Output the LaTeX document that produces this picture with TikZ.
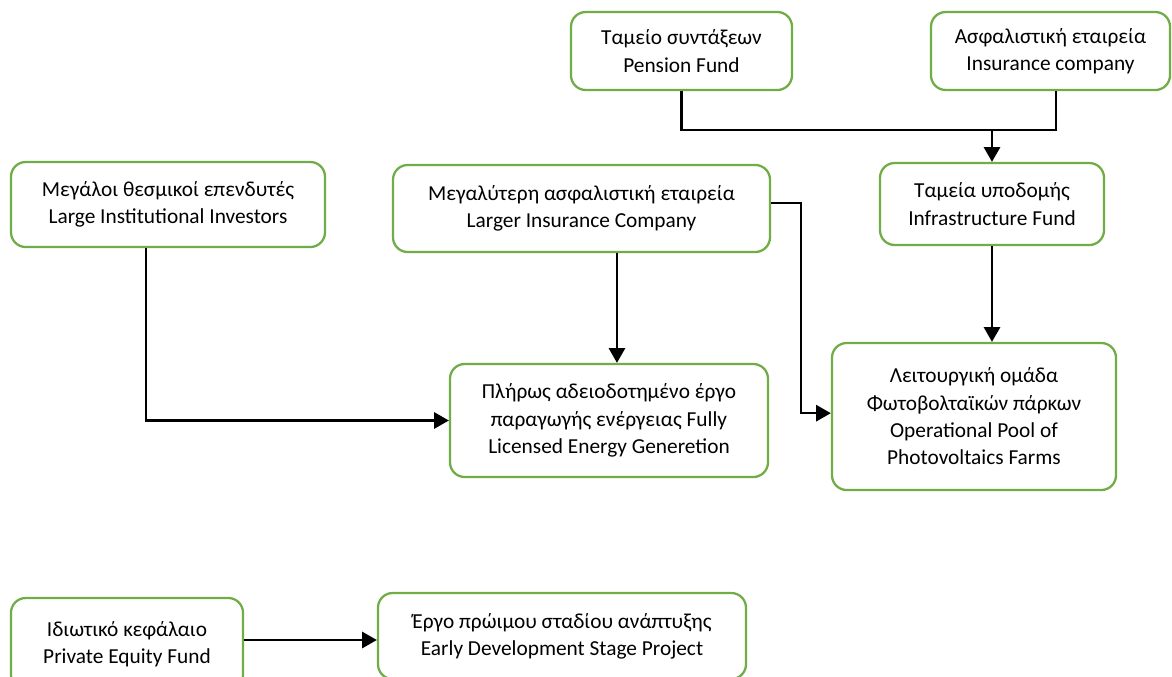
\documentclass[tikz,border=0pt]{standalone}
\usepackage{fontspec}
\setmainfont{Carlito}
\usetikzlibrary{arrows.meta}
\definecolor{boxgreen}{HTML}{70AD47}

\tikzset{
    fund/.style={draw=boxgreen, line width=1.7pt, rounded corners=11pt,
        align=center, inner sep=0pt, fill=white,
        font=\fontsize{16}{20.5}\selectfont},
    link/.style={line width=1.9pt, -{Triangle[length=11pt,width=12pt]}},
    joint/.style={line width=1.9pt}
}

\begin{document}
\begin{tikzpicture}[x=0.75pt,y=-0.75pt]
        \useasboundingbox (0,0) rectangle (1172,676);
        % top row
        \node[fund, minimum width=165.75pt, minimum height=58.5pt] (pension) at (681.5,51)
            {Ταμείο συντάξεων\\Pension Fund};
        \node[fund, minimum width=179.25pt, minimum height=58.5pt] (insurance) at (1050.5,51)
            {Ασφαλιστική εταιρεία\\Insurance company};
        % middle row
        \node[fund, minimum width=168pt, minimum height=61.5pt] (infra) at (992,204)
            {Ταμεία υποδομής\\Infrastructure Fund};
        \node[fund, minimum width=235.5pt, minimum height=63.75pt] (largeinv) at (168,204.5)
            {Μεγάλοι θεσμικοί επενδυτές\\Large Institutional Investors};
        \node[fund, minimum width=282.75pt, minimum height=65.25pt] (largerins) at (581.5,208.5)
            {Μεγαλύτερη ασφαλιστική εταιρεία\\Larger Insurance Company};
        % targets
        \node[fund, minimum width=238.5pt, minimum height=84.75pt] (licensed) at (609,420.5)
            {Πλήρως αδειοδοτημένο έργο\\παραγωγής ενέργειας Fully\\Licensed Energy Generetion};
        \node[fund, minimum width=213pt, minimum height=110.25pt] (pool) at (974,416.5)
            {Λειτουργική ομάδα\\Φωτοβολταϊκών πάρκων\\Operational Pool of\\Photovoltaics Farms};
        % bottom row
        \node[fund, minimum width=174pt, minimum height=69pt] (privequity) at (127,644)
            {Ιδιωτικό κεφάλαιο\\Private Equity Fund};
        \node[fund, minimum width=276pt, minimum height=64.5pt] (earlydev) at (562,636)
            {Έργο πρώιμου σταδίου ανάπτυξης\\Early Development Stage Project};

        % connectors
        \coordinate (merge) at (992,130);
        \draw[joint] (pension.south) |- (merge) -| ([xshift=4pt]insurance.south);
        \draw[link] (merge) -- (infra.north);
        \draw[link] (infra.south) -- (infra.south |- pool.north);
        \draw[link] ([xshift=26.6pt]largerins.south) -- ([xshift=26.6pt]largerins.south |- licensed.north);
        \draw[link] ([yshift=4pt]largerins.east) -- ++(30,0) |- ([yshift=2.5pt]pool.west);
        \draw[link] ([xshift=-16.5pt]largeinv.south) |- (licensed.west);
        \draw[link] ([yshift=3pt]privequity.east) -- ([yshift=3pt]privequity.east -| earlydev.west);
    \end{tikzpicture}
\end{document}
